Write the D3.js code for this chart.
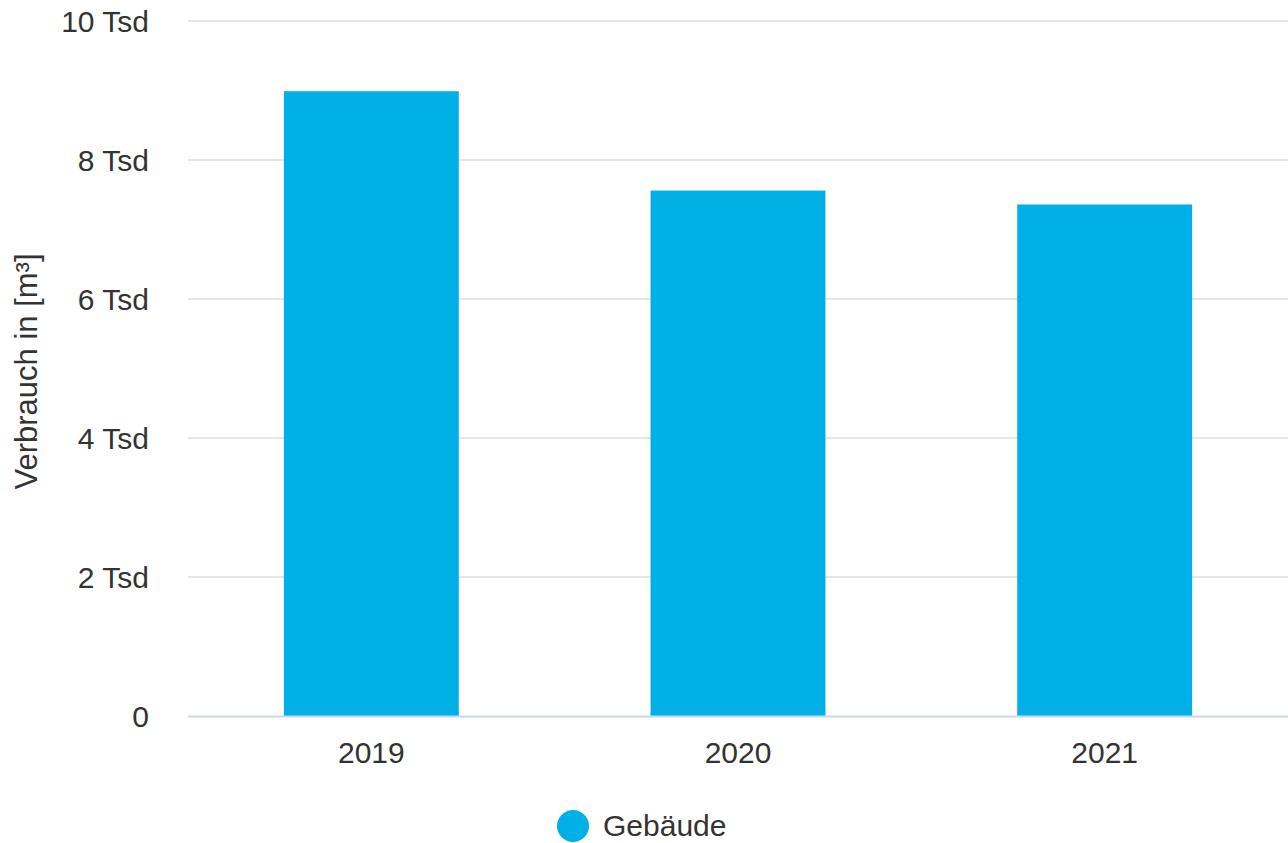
<!DOCTYPE html>
<html>
<head>
<meta charset="utf-8">
<script src="https://cdn.jsdelivr.net/npm/d3@7"></script>
<style>
  body { margin: 0; background: #fff; }
  text { font-family: "Liberation Sans", Arial, sans-serif; fill: #333; }
</style>
</head>
<body>
<div class="chart"></div>
<script>
var years = ["2019", "2020", "2021"];
var verbrauch = [8990, 7560, 7360];
var yTicks = [0, 2000, 4000, 6000, 8000, 10000];
var seriesName = "Gebäude";

var width = 1288,
    height = 843,
    margin = {top: 21, bottom: 127, right: 0, left: 188};

var svg = d3.select(".chart").append("svg")
    .attr("width", width)
    .attr("height", height);

var x = d3.scaleBand()
    .domain(years)
    .range([margin.left, width - margin.right]);

var y = d3.scaleLinear()
    .domain([0, 10000])
    .range([height - margin.bottom, margin.top]);

// grid lines
svg.append("g").attr("class", "grid")
    .selectAll("line")
    .data(yTicks.filter(function(d) { return d > 0; }))
    .enter()
    .append("line")
    .attr("x1", margin.left)
    .attr("x2", width - margin.right)
    .attr("y1", function(d) { return y(d); })
    .attr("y2", function(d) { return y(d); })
    .style("stroke", "#e6e6e6")
    .style("stroke-width", 2);

// bars
var barW = x.bandwidth() * 0.477;
svg.append("g").attr("class", "bars")
    .selectAll("rect")
    .data(verbrauch)
    .enter()
    .append("rect")
    .attr("x", function(d, i) { return x(years[i]) + (x.bandwidth() - barW) / 2; })
    .attr("y", function(d) { return y(d); })
    .attr("width", barW)
    .attr("height", function(d) { return y(0) - y(d); })
    .style("fill", "#00b0e6");

// x baseline
svg.append("line")
    .attr("x1", margin.left)
    .attr("x2", width - margin.right)
    .attr("y1", y(0) + 0.5)
    .attr("y2", y(0) + 0.5)
    .style("stroke", "#ccd6eb")
    .style("stroke-width", 2);

// y tick labels
svg.append("g").attr("class", "ylabels")
    .selectAll("text")
    .data(yTicks)
    .enter()
    .append("text")
    .text(function(d) { return d === 0 ? "0" : (d / 1000) + " Tsd"; })
    .attr("x", 149)
    .attr("y", function(d) { return y(d) + 11; })
    .attr("text-anchor", "end")
    .attr("font-size", "30px");

// x labels
svg.append("g").attr("class", "xlabels")
    .selectAll("text")
    .data(years)
    .enter()
    .append("text")
    .text(function(d) { return d; })
    .attr("x", function(d) { return x(d) + x.bandwidth() / 2; })
    .attr("y", 763)
    .attr("text-anchor", "middle")
    .attr("font-size", "30px");

// y axis title
svg.append("text")
    .text("Verbrauch in [m³]")
    .attr("transform", "translate(37," + ((y(0) + y(10000)) / 2 + 3) + ") rotate(-90)")
    .attr("text-anchor", "middle")
    .attr("font-size", "31px");

// legend
var legend = svg.append("g").attr("class", "legend");
legend.append("circle")
    .attr("cx", 573)
    .attr("cy", 826)
    .attr("r", 16)
    .style("fill", "#00b0e6");
legend.append("text")
    .text(seriesName)
    .attr("x", 603)
    .attr("y", 836)
    .attr("font-size", "30px");
</script>
</body>
</html>
